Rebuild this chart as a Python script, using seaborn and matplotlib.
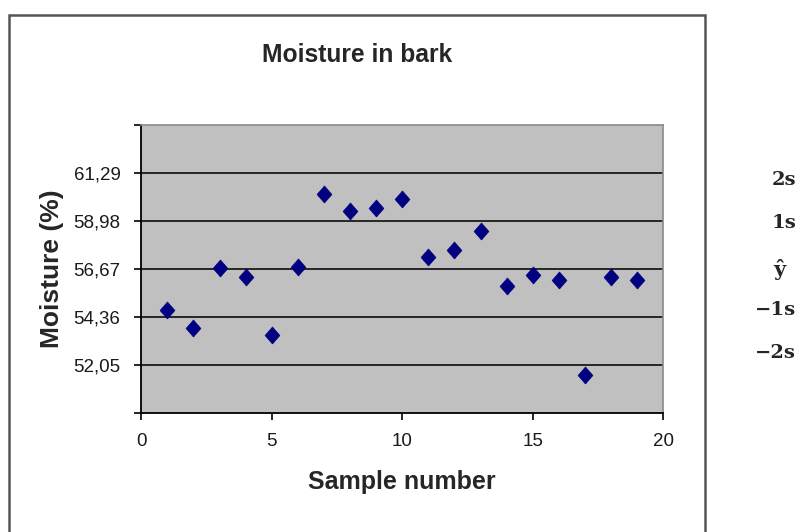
import matplotlib
matplotlib.use("Agg")
import matplotlib.pyplot as plt
from matplotlib.patches import Rectangle
import pandas as pd
import seaborn as sns

# Moisture measurements per bark sample
sample = list(range(1, 20))
moisture = [54.72, 53.84, 56.74, 56.31, 53.52, 56.79, 60.30, 59.47, 59.61, 60.05,
            57.25, 57.59, 58.51, 55.88, 56.39, 56.15, 51.56, 56.31, 56.15]

# Control-chart levels: mean and +/- 1, 2 standard deviations
level_values = [49.74, 52.05, 54.36, 56.67, 58.98, 61.29, 63.60]
level_labels = ["", "52,05", "54,36", "56,67", "58,98", "61,29", ""]
band_names = ["2s", "1s", "ŷ", "−1s", "−2s"]
x_ticks = [0, 5, 10, 15, 20]

df = pd.DataFrame({"Sample number": sample, "Moisture (%)": moisture})

W, H = 798, 532
sns.set_style("white")
plt.rcParams["font.family"] = ["Liberation Sans", "DejaVu Sans"]

fig = plt.figure(figsize=(W / 100, H / 100), dpi=100)
ax_l, ax_r, ax_t, ax_b = 141.3, 663.2, 125.0, 413.3
ax = fig.add_axes([ax_l / W, 1 - ax_b / H, (ax_r - ax_l) / W, (ax_b - ax_t) / H])
ax.set_facecolor("#C0C0C0")

# Horizontal gridlines at the labelled levels
for v in level_values[1:-1]:
    ax.axhline(v, color="#1a1a1a", lw=1.3, zorder=1)

# Slightly tall diamond marker
diamond = [(0, -1.15), (1, 0), (0, 1.15), (-1, 0), (0, -1.15)]
sns.scatterplot(data=df, x="Sample number", y="Moisture (%)", marker=diamond,
                s=150, color="#000080", edgecolor="#000080", linewidth=0.5,
                ax=ax, zorder=3, legend=False)

ax.set_xlim(0, 20)
ax.set_ylim(level_values[0], level_values[-1])
ax.set_xticks(x_ticks)
ax.set_xticklabels([str(t) for t in x_ticks])
ax.set_yticks(level_values)
ax.set_yticklabels(level_labels)
ax.tick_params(axis="both", direction="out", length=5, width=1.2, color="black",
               labelsize=13.5, labelcolor="#1a1a1a", left=True, bottom=True)
ax.tick_params(axis="y", pad=10)
ax.tick_params(axis="x", pad=9.5)

for side in ["left", "bottom"]:
    ax.spines[side].set_color("black")
    ax.spines[side].set_linewidth(1.3)
for side in ["top", "right"]:
    ax.spines[side].set_color("#8a8a8a")
    ax.spines[side].set_linewidth(1.2)

ax.set_xlabel("Sample number", fontsize=18, fontweight="bold")
ax.set_ylabel("Moisture (%)", fontsize=19, fontweight="bold")
ax.xaxis.set_label_coords(0.5, (ax_b - 470) / (ax_b - ax_t))
ax.yaxis.set_label_coords((64.5 - ax_l) / (ax_r - ax_l), 0.5)

fig.text(357 / W, 1 - 61.7 / H, "Moisture in bark", ha="center", va="baseline",
         fontsize=17.7, fontweight="bold")

# Chart-area frame
fig.patches.append(Rectangle((9 / W, -0.02), 696 / W, 1 - 15 / H + 0.02,
                             transform=fig.transFigure, fill=False,
                             edgecolor="#555555", lw=1.8, zorder=0))

# Band labels in the right margin, one per line
serif = ["DejaVu Serif", "Liberation Serif"]
first_baseline, step = 185.0, 43.25
for i, name in enumerate(band_names):
    y_px = first_baseline + i * step
    if name == "ŷ":
        fig.text(779 / W, 1 - (y_px + 5) / H, name, ha="center", va="baseline",
                 fontsize=15, fontweight="bold", family=serif)
    else:
        fig.text(796 / W, 1 - y_px / H, name, ha="right", va="baseline",
                 fontsize=14, fontweight="bold", family=serif)

fig.savefig("out.png", dpi=100)
